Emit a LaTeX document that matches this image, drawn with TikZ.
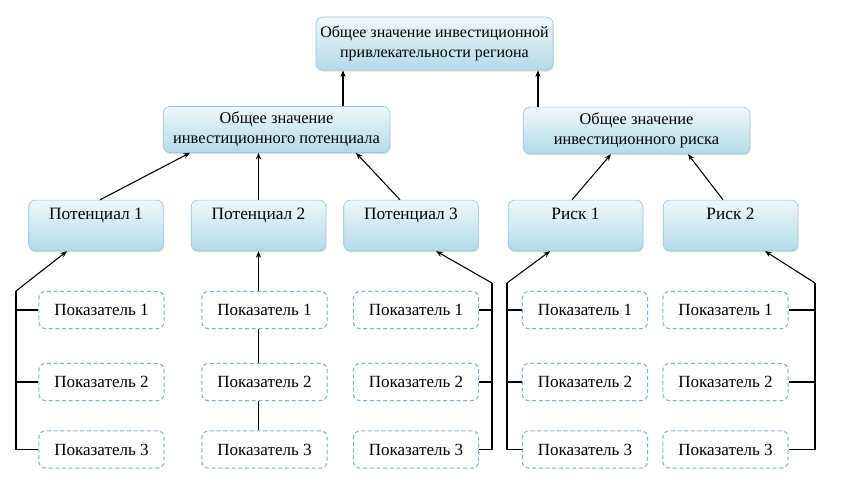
\documentclass[tikz,border=0pt]{standalone}
\usepackage{fontspec}
\setmainfont{Liberation Serif}
\usetikzlibrary{arrows.meta,shadows,calc}
\definecolor{boxtop}{HTML}{EEF7FA}
\definecolor{boxbot}{HTML}{B3DAE8}
\definecolor{boxline}{HTML}{9CC7D8}
\definecolor{dashline}{HTML}{7DB4CF}
\tikzset{
  mainbox/.style={rounded corners=5pt, draw=boxline, line width=0.5pt,
    top color=boxtop, bottom color=boxbot, align=center, inner sep=1pt,
    font=\fontsize{12.3pt}{15pt}\selectfont,
    drop shadow={opacity=0.25, shadow xshift=0.6pt, shadow yshift=-1.2pt}},
  lvlbox/.style={mainbox, minimum width=101pt, minimum height=38pt,
    font=\fontsize{13pt}{15pt}\selectfont},
  indbox/.style={rounded corners=5pt, draw=dashline, dashed, dash pattern=on 3pt off 2pt,
    line width=0.8pt, fill=white, minimum width=94pt, minimum height=28pt,
    font=\fontsize{12.8pt}{15pt}\selectfont, inner sep=1pt},
  conn/.style={line width=0.8pt, black},
  arr/.style={conn, -{Stealth[length=5pt,width=4pt]}}
}
\begin{document}
\begin{tikzpicture}[x=0.75pt,y=-0.75pt]
\useasboundingbox (0,0) rectangle (846,491);
% top
\node[mainbox, minimum width=177.75pt, minimum height=39.75pt,
  font=\fontsize{12pt}{15.5pt}\selectfont] (top) at (434.5,43.5)
  {Общее значение инвестиционной\\привлекательности региона};
\node[mainbox, minimum width=170pt, minimum height=34.5pt] (pot) at (276.5,129.5)
  {Общее значение\\инвестиционного потенциала};
\node[mainbox, minimum width=170pt, minimum height=35pt] (risk) at (636.5,130.5)
  {Общее значение\\инвестиционного риска};
% level 2
\node[lvlbox] (p1) at (96,225.5) {Потенциал 1\\[3pt]};
\node[lvlbox] (p2) at (258.5,225.5) {Потенциал 2\\[3pt]};
\node[lvlbox] (p3) at (411,225.5) {Потенциал 3\\[3pt]};
\node[lvlbox] (r1) at (575.5,225.5) {Риск 1\\[3pt]};
\node[lvlbox] (r2) at (730.5,225.5) {Риск 2\\[3pt]};
% indicators
\foreach \c/\x in {a/101.5,b/264.5,c/416,d/585,e/725.5}{
  \node[indbox] (\c1) at (\x,310) {Показатель 1};
  \node[indbox] (\c2) at (\x,382) {Показатель 2};
  \node[indbox] (\c3) at (\x,449.5) {Показатель 3};
}
% top connectors
\draw[arr] (pot.north -| 343,0) -- (top.south -| 343,0);
\draw[arr] (risk.north -| 538,0) -- (top.south -| 538,0);
\draw[arr] (p1.north -| 100,0) -- (pot.south -| 190,0);
\draw[arr] (p2.north) -- (pot.south -| p2.north);
\draw[arr] (p3.north -| 400,0) -- (pot.south -| 356,0);
\draw[arr] (r1.north -| 572,0) -- (risk.south -| 611,0);
\draw[arr] (r2.north -| 723,0) -- (risk.south -| 688,0);
% column a (left bus)
\coordinate (ka) at (16,291);
\draw[conn] (a3.west) -| (ka);
\draw[conn] (a1.west) -- (a1.west -| ka);
\draw[conn] (a2.west) -- (a2.west -| ka);
\draw[arr] (ka) -- (p1.south -| 67,0);
% column b (chain)
\draw[conn] (b3.north -| p2.south) -- (b2.south -| p2.south);
\draw[conn] (b2.north -| p2.south) -- (b1.south -| p2.south);
\draw[arr] (b1.north -| p2.south) -- (p2.south);
% column c (right bus)
\coordinate (kc) at (492,283);
\draw[conn] (c3.east) -| (kc);
\draw[conn] (c1.east) -- (c1.east -| kc);
\draw[conn] (c2.east) -- (c2.east -| kc);
\draw[arr] (kc) -- (p3.south -| 436,0);
% column d (left bus)
\coordinate (kd) at (507,283);
\draw[conn] (d3.west) -| (kd);
\draw[conn] (d1.west) -- (d1.west -| kd);
\draw[conn] (d2.west) -- (d2.west -| kd);
\draw[arr] (kd) -- (r1.south -| 550,0);
% column e (right bus)
\coordinate (ke) at (815,283);
\draw[conn] (e3.east) -| (ke);
\draw[conn] (e1.east) -- (e1.east -| ke);
\draw[conn] (e2.east) -- (e2.east -| ke);
\draw[arr] (ke) -- (r2.south -| 765,0);
\end{tikzpicture}
\end{document}
